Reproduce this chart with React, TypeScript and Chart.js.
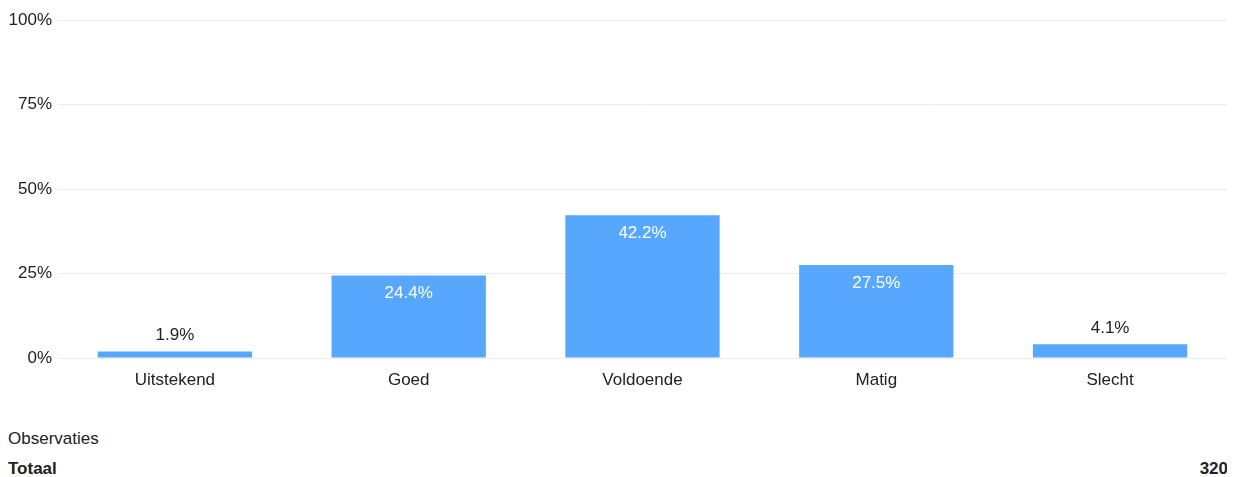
import React, { useEffect, useRef } from "react";
import { Chart, registerables } from "chart.js";

Chart.register(...registerables);

const categories = ["Uitstekend", "Goed", "Voldoende", "Matig", "Slecht"];
const percentages = [1.9, 24.4, 42.2, 27.5, 4.1];
const yTicks = [0, 25, 50, 75, 100];
const totalLabel = "Totaal";
const totalValue = 320;
const footerTitle = "Observaties";

const FONT = "'Liberation Sans', Arial, sans-serif";
const BAR_COLOR = "#57A7FF";

const labelPlugin = {
  id: "barLabels",
  afterDatasetsDraw(chart: any) {
    const ctx = chart.ctx;
    const meta = chart.getDatasetMeta(0);
    ctx.save();
    ctx.font = `17px ${FONT}`;
    ctx.textAlign = "center";
    ctx.textBaseline = "middle";
    meta.data.forEach((bar: any, i: number) => {
      const v = percentages[i];
      const text = v.toFixed(1) + "%";
      if (v < 10) {
        ctx.fillStyle = "#222";
        ctx.fillText(text, bar.x, bar.y - 16);
      } else {
        ctx.fillStyle = "#ffffff";
        ctx.fillText(text, bar.x, bar.y + 18);
      }
    });
    ctx.restore();
  },
};

export default function App() {
  const ref = useRef<HTMLCanvasElement>(null);
  useEffect(() => {
    if (!ref.current) return;
    const chart = new Chart(ref.current, {
      type: "bar",
      data: {
        labels: categories,
        datasets: [
          {
            data: percentages,
            backgroundColor: BAR_COLOR,
            categoryPercentage: 0.66,
            barPercentage: 1,
          },
        ],
      },
      options: {
        animation: false,
        responsive: true,
        maintainAspectRatio: false,
        layout: { padding: { top: 12, right: 0, left: 0, bottom: 0 } },
        plugins: { legend: { display: false }, tooltip: { enabled: false } },
        scales: {
          x: {
            grid: { display: false, drawTicks: false },
            border: { display: false },
            ticks: { color: "#222", font: { family: FONT, size: 17 }, padding: 12, maxRotation: 0 },
            afterFit(scale: any) {
              scale.height = 40;
              scale.paddingLeft = 0;
              scale.paddingRight = 0;
            },
          },
          y: {
            min: 0,
            max: 100,
            afterBuildTicks(scale: any) {
              scale.ticks = yTicks.map((v) => ({ value: v }));
            },
            grid: { color: "#ececec", drawTicks: false },
            border: { display: false },
            ticks: {
              color: "#222",
              font: { family: FONT, size: 17 },
              padding: 6,
              callback: (v: any) => v + "%",
            },
            afterFit(scale: any) {
              scale.width = 50;
              scale.paddingTop = 0;
              scale.paddingBottom = 0;
            },
          },
        },
      },
      plugins: [labelPlugin],
    });
    return () => chart.destroy();
  }, []);

  return (
    <div style={{ fontFamily: FONT, color: "#222" }}>
      <div style={{ position: "relative", width: 1219, height: 390 }}>
        <canvas ref={ref} />
      </div>
      <div style={{ marginTop: 26, fontSize: 17 }}>
        <div style={{ height: 30, lineHeight: "30px" }}>{footerTitle}</div>
        <div
          style={{
            height: 30,
            lineHeight: "30px",
            display: "flex",
            justifyContent: "space-between",
            fontWeight: "bold",
            width: 1220,
          }}
        >
          <span>{totalLabel}</span>
          <span>{totalValue}</span>
        </div>
      </div>
    </div>
  );
}
